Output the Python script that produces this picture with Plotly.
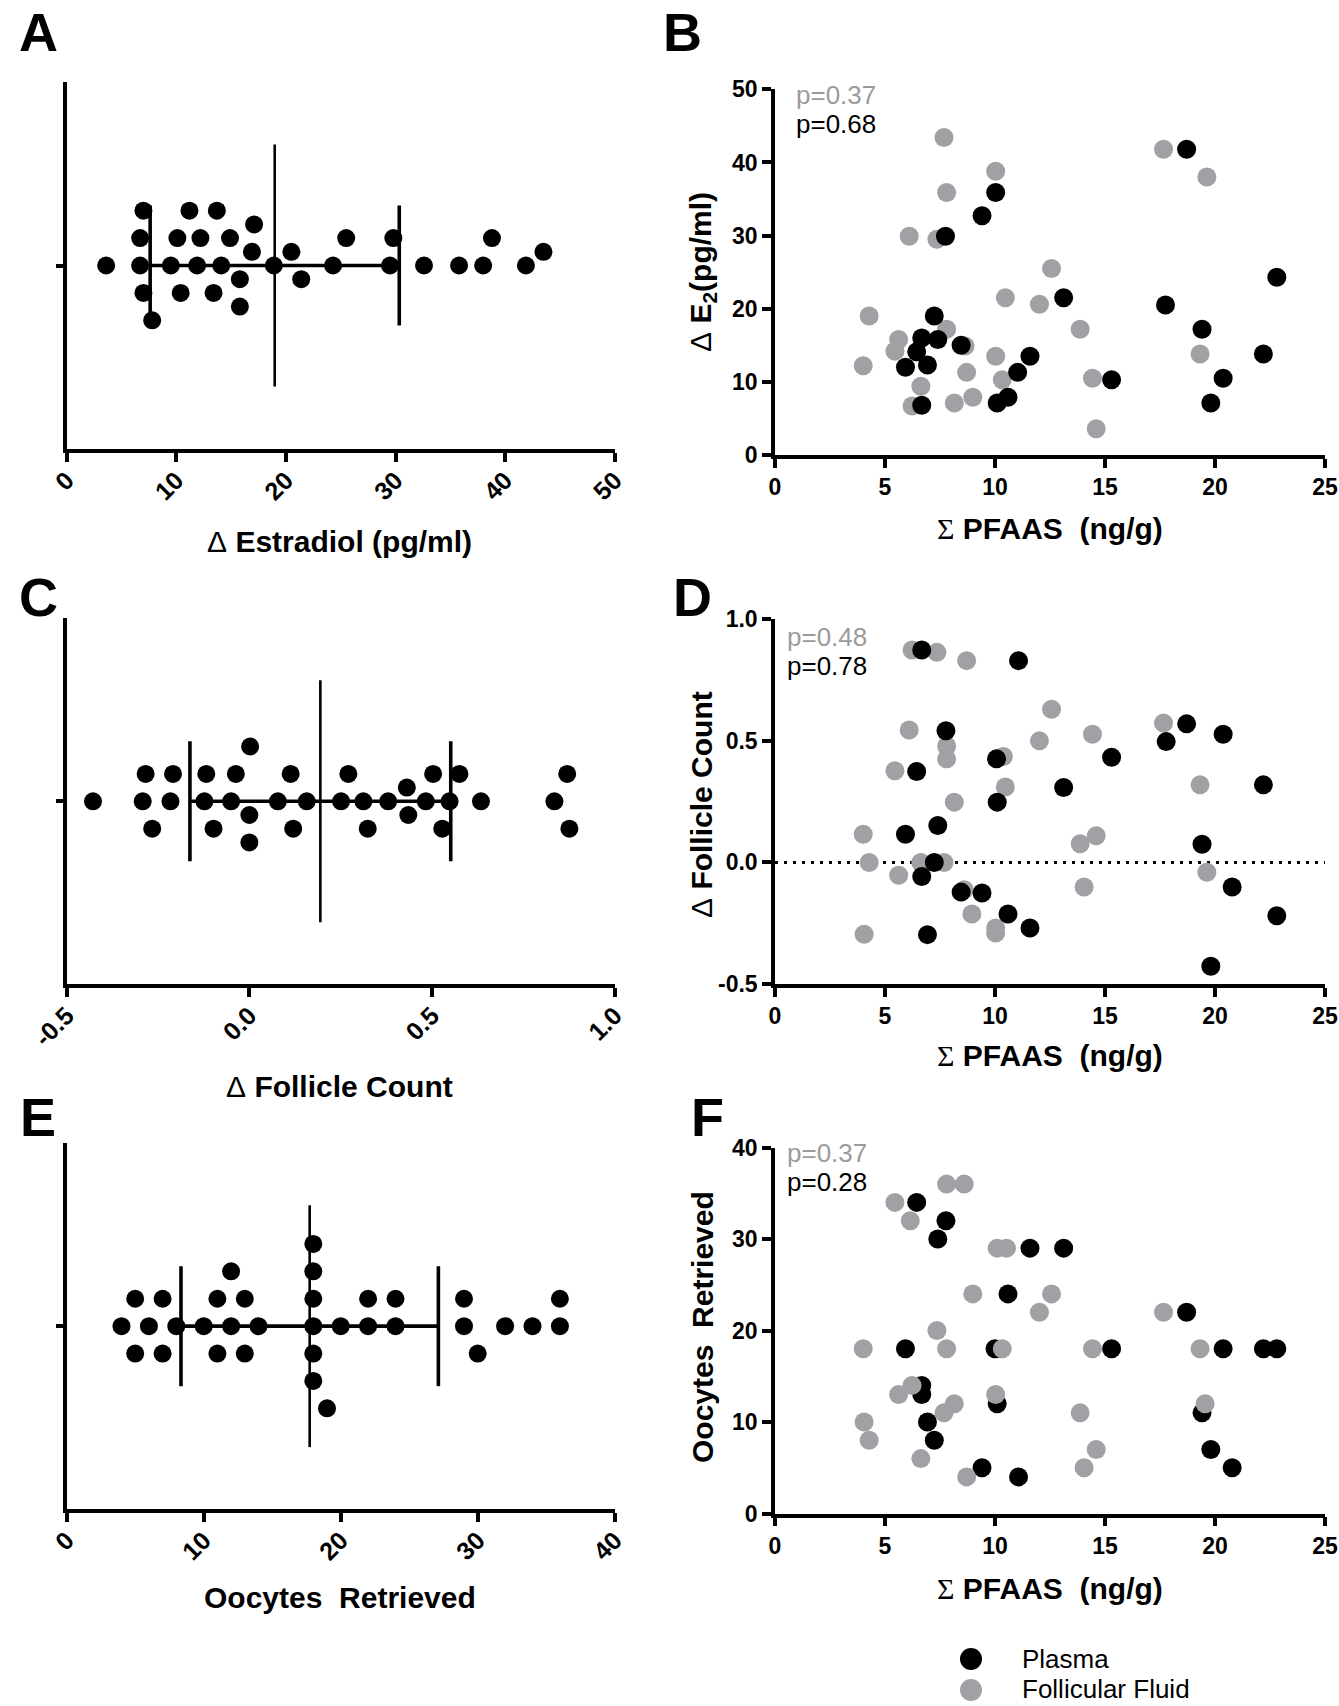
import math
import plotly.graph_objects as go

# ---------------- data ----------------
# Panel A: delta estradiol (pg/ml), all participants
estradiol_delta = [3.6, 6.7, 6.7, 7.0, 7.0, 7.8, 9.5, 10.1, 10.4, 11.2, 11.9, 12.2, 13.4, 13.7,
                   14.1, 14.9, 15.8, 15.8, 16.9, 17.1, 18.9, 20.5, 21.4, 24.3, 25.5, 29.5, 29.8,
                   32.6, 35.8, 38.0, 38.8, 41.9, 43.5]
# Panel C: delta follicle count
follicle_delta = [-0.428, -0.292, -0.284, -0.266, -0.216, -0.209, -0.123, -0.118, -0.098, -0.05,
                  -0.037, 0.0, 0.0, 0.002, 0.078, 0.113, 0.12, 0.157, 0.251, 0.271, 0.312, 0.324,
                  0.38, 0.431, 0.435, 0.483, 0.503, 0.528, 0.548, 0.575, 0.634, 0.835, 0.87, 0.876]
# Panel E: oocytes retrieved
oocytes = [4, 5, 5, 6, 7, 7, 8, 10, 11, 11, 12, 12, 13, 13, 14, 18, 18, 18, 18, 18, 18, 19, 20,
           22, 22, 24, 24, 29, 29, 30, 32, 34, 36, 36]

# Panel B: sum PFAAS vs delta E2
pfaas_plasma_B = [18.71, 10.03, 9.41, 7.75, 13.12, 22.81, 17.75, 7.24, 6.67, 7.4, 8.46, 6.44, 5.93,
                  6.93, 11.59, 11.03, 15.3, 19.41, 22.2, 20.37, 19.81, 10.1, 10.59, 6.67]
e2_plasma_B = [41.8, 35.9, 32.7, 29.9, 21.5, 24.3, 20.5, 19.0, 16.0, 15.8, 15.0, 14.1, 12.0,
               12.3, 13.5, 11.3, 10.3, 17.2, 13.8, 10.5, 7.1, 7.1, 7.9, 6.8]
pfaas_ff_B = [7.68, 10.03, 7.8, 6.1, 7.36, 12.57, 10.47, 12.02, 4.28, 7.8, 13.87, 5.62, 8.64, 5.45,
              10.03, 4.01, 8.71, 10.33, 14.43, 6.63, 6.23, 8.15, 8.99, 14.6, 17.66, 19.63, 19.32]
e2_ff_B = [43.4, 38.8, 35.9, 29.9, 29.5, 25.5, 21.5, 20.6, 19.0, 17.2, 17.2, 15.8, 14.9, 14.2,
           13.5, 12.2, 11.3, 10.3, 10.5, 9.4, 6.7, 7.1, 7.9, 3.6, 41.8, 38.0, 13.8]

# Panel D: sum PFAAS vs delta follicle count
pfaas_plasma_D = [6.67, 11.07, 7.77, 18.71, 20.37, 17.78, 10.07, 15.3, 6.44, 13.12, 22.2, 10.1,
                  7.4, 5.93, 19.41, 7.24, 6.67, 8.46, 9.41, 10.59, 22.81, 11.59, 6.93, 20.78, 19.81]
fc_plasma_D = [0.874, 0.83, 0.542, 0.570, 0.527, 0.497, 0.426, 0.433, 0.374, 0.308, 0.319, 0.248,
               0.152, 0.116, 0.075, 0.0, -0.058, -0.122, -0.126, -0.212, -0.219, -0.27, -0.297,
               -0.101, -0.427]
pfaas_ff_D = [6.23, 7.36, 8.71, 12.57, 6.1, 17.66, 14.43, 12.02, 7.8, 7.8, 10.38, 5.45, 10.47,
              19.32, 8.15, 4.01, 14.6, 13.87, 4.28, 6.63, 7.68, 5.62, 19.63, 14.05, 8.6, 8.95,
              10.03, 10.03, 4.05]
fc_ff_D = [0.874, 0.864, 0.83, 0.63, 0.545, 0.573, 0.527, 0.5, 0.479, 0.426, 0.436, 0.377, 0.31,
           0.319, 0.248, 0.116, 0.11, 0.077, 0.0, 0.0, 0.0, -0.053, -0.04, -0.101, -0.112, -0.212,
           -0.27, -0.29, -0.295]

# Panel F: sum PFAAS vs oocytes retrieved
pfaas_plasma_F = [6.44, 7.77, 7.4, 11.59, 13.12, 10.59, 18.71, 5.93, 10.0, 15.3, 20.37, 22.2,
                  22.81, 6.67, 6.67, 10.1, 19.41, 6.93, 7.24, 19.81, 9.41, 20.78, 11.07]
oo_plasma_F = [34, 32, 30, 29, 29, 24, 22, 18, 18, 18, 18, 18, 18, 14, 13, 12, 11, 10, 8, 7, 5, 5, 4]
pfaas_ff_F = [5.45, 6.15, 7.8, 8.6, 10.1, 10.52, 8.99, 12.57, 12.02, 17.66, 7.36, 4.01, 7.8, 10.33,
              14.43, 19.32, 6.23, 5.62, 10.03, 8.15, 19.55, 7.68, 13.87, 4.05, 4.28, 14.6, 6.63,
              14.05, 8.71]
oo_ff_F = [34, 32, 36, 36, 29, 29, 24, 24, 22, 22, 20, 18, 18, 18, 18, 18, 14, 13, 13, 12, 12, 11,
           11, 10, 8, 7, 6, 5, 4]

p_values_B = ["p=0.37", "p=0.68"]
p_values_D = ["p=0.48", "p=0.78"]
p_values_F = ["p=0.37", "p=0.28"]

ticks_A = [0, 10, 20, 30, 40, 50]
ticks_C = [-0.5, 0.0, 0.5, 1.0]
ticklabels_C = ["-0.5", "0.0", "0.5", "1.0"]
ticks_E = [0, 10, 20, 30, 40]
ticks_pfaas = [0, 5, 10, 15, 20, 25]
ticks_B = [0, 10, 20, 30, 40, 50]
ticks_D = [-0.5, 0.0, 0.5, 1.0]
ticklabels_D = ["-0.5", "0.0", "0.5", "1.0"]
ticks_F = [0, 10, 20, 30, 40]

series_names = ["Plasma", "Follicular Fluid"]

# ---------------- style / layout ----------------
W, H = 1339, 1706
BLACK = "#000000"
GREY = "#a0a0a5"
PGREY = "#9b9b9b"
FONT = "Arial, Liberation Sans, sans-serif"
DOT_SWARM = 18
DOT = 19
TICKF = 23
TITLEF = 30


def fx(px):
    return px / W


def fy(py):
    return 1 - py / H


# pixel boxes (left, right, top, bottom)
box = {
    "A": (66.7, 614.7, 82, 449),
    "B": (775, 1325, 89.3, 455),
    "C": (66.7, 614.7, 618.3, 984.3),
    "D": (775, 1325, 619.3, 984),
    "E": (66.7, 614.7, 1143.3, 1509),
    "F": (775, 1325, 1147.5, 1513.5),
}


def swarm_offsets(values, px_per_unit, lane=13.7, d=22.0):
    order = sorted(range(len(values)), key=lambda i: values[i])
    placed = []
    offs = [0.0] * len(values)
    cands = [0] + [s * j for j in range(1, 40) for s in (1, -1)]
    for i in order:
        x = values[i] * px_per_unit
        chosen = 0
        for k in cands:
            y = k * lane
            if all((x - px) ** 2 + (y - py) ** 2 >= d * d for px, py in placed):
                chosen = k
                break
        placed.append((x, chosen * lane))
        offs[i] = chosen * lane
    return offs


def mean_sd(v):
    m = sum(v) / len(v)
    s = math.sqrt(sum((a - m) ** 2 for a in v) / (len(v) - 1))
    return m, s


fig = go.Figure()

axis_base = dict(showline=True, linewidth=3.5, linecolor=BLACK, ticks="outside", ticklen=9,
                 tickwidth=3.5, tickcolor=BLACK, showgrid=False, zeroline=False, automargin=False,
                 tickfont=dict(family=FONT, size=TICKF, color=BLACK, weight="bold"))

layout_axes = {}
panels_dot = [("A", estradiol_delta, [0, 50], ticks_A, [str(t) for t in ticks_A], 1),
              ("C", follicle_delta, [-0.5, 1.0], ticks_C, ticklabels_C, 3),
              ("E", oocytes, [0, 40], ticks_E, [str(t) for t in ticks_E], 5)]

for key, vals, xr, tv, tt, n in panels_dot:
    l, r, t, b = box[key]
    half = (b - t) / 2
    ppu = (r - l) / (xr[1] - xr[0])
    offs = swarm_offsets([v - xr[0] for v in vals], ppu)
    xa = "x" if n == 1 else f"x{n}"
    ya = "y" if n == 1 else f"y{n}"
    fig.add_trace(go.Scatter(x=vals, y=offs, mode="markers", xaxis=xa, yaxis=ya,
                             marker=dict(color=BLACK, size=DOT_SWARM, line=dict(width=0)),
                             showlegend=False, cliponaxis=False))
    m, s = mean_sd(vals)
    fig.add_trace(go.Scatter(x=[m, m], y=[-121, 121], mode="lines", xaxis=xa, yaxis=ya,
                             line=dict(color=BLACK, width=2.6), showlegend=False))
    fig.add_trace(go.Scatter(x=[m - s, m + s, None, m - s, m - s, None, m + s, m + s],
                             y=[0, 0, None, -60, 60, None, -60, 60], mode="lines",
                             xaxis=xa, yaxis=ya, line=dict(color=BLACK, width=3.6),
                             showlegend=False))
    layout_axes[f"xaxis{'' if n == 1 else n}"] = dict(
        axis_base, domain=[fx(l), fx(r)], range=xr, tickvals=tv, ticktext=tt,
        tickangle=-45, anchor=ya, ticklabelstandoff=-6,
        tickfont=dict(family=FONT, size=25, color=BLACK, weight="bold"))
    layout_axes[f"yaxis{'' if n == 1 else n}"] = dict(
        axis_base, domain=[fy(b), fy(t)], range=[-half, half], tickvals=[0],
        showticklabels=False, ticklen=7, anchor=xa)

panels_sc = [("B", pfaas_plasma_B, e2_plasma_B, pfaas_ff_B, e2_ff_B, [0, 50], ticks_B,
              [str(t) for t in ticks_B], 2, True),
             ("D", pfaas_plasma_D, fc_plasma_D, pfaas_ff_D, fc_ff_D, [-0.5, 1.0], ticks_D,
              ticklabels_D, 4, True),
             ("F", pfaas_plasma_F, oo_plasma_F, pfaas_ff_F, oo_ff_F, [0, 40], ticks_F,
              [str(t) for t in ticks_F], 6, False)]

for key, px_, py_, fx_, fy_, yr, tv, tt, n, black_top in panels_sc:
    l, r, t, b = box[key]
    xa, ya = f"x{n}", f"y{n}"
    if key == "D":
        fig.add_trace(go.Scatter(x=[0, 25], y=[0, 0], mode="lines", xaxis=xa, yaxis=ya,
                                 line=dict(color=BLACK, width=3, dash="3px,6px"),
                                 showlegend=False))
    tr_p = go.Scatter(x=px_, y=py_, mode="markers", xaxis=xa, yaxis=ya, name=series_names[0],
                      marker=dict(color=BLACK, size=DOT, line=dict(width=0)), showlegend=False,
                      cliponaxis=False)
    tr_f = go.Scatter(x=fx_, y=fy_, mode="markers", xaxis=xa, yaxis=ya, name=series_names[1],
                      marker=dict(color=GREY, size=DOT, line=dict(width=0)), showlegend=False,
                      cliponaxis=False)
    if black_top:
        fig.add_trace(tr_f)
        fig.add_trace(tr_p)
    else:
        fig.add_trace(tr_p)
        fig.add_trace(tr_f)
    layout_axes[f"xaxis{n}"] = dict(axis_base, domain=[fx(l), fx(r)], range=[0, 25],
                                    tickvals=ticks_pfaas, ticktext=[str(v) for v in ticks_pfaas],
                                    anchor=ya)
    layout_axes[f"yaxis{n}"] = dict(axis_base, domain=[fy(b), fy(t)], range=yr, tickvals=tv,
                                    ticktext=tt, anchor=xa)

annotations = []


def ann(text, x, y, size, color=BLACK, weight="normal", xanchor="center", angle=0):
    annotations.append(dict(text=text, x=fx(x), y=fy(y), xref="paper", yref="paper",
                            showarrow=False, xanchor=xanchor, yanchor="middle", textangle=angle,
                            font=dict(family=FONT, size=size, color=color, weight=weight)))


for letter, x, y in [("A", 38, 32), ("B", 682, 32), ("C", 38, 597), ("D", 693, 597),
                     ("E", 38, 1117), ("F", 707, 1117)]:
    ann(letter, x, y, 54, weight="bold")

SIG = "<span style='font-family:Liberation Serif;font-weight:normal'>\u03a3</span>"
DEL = "<span style='font-weight:normal'>\u0394</span>"
pf_title = SIG + " PFAAS\u00a0 (ng/g)"
ann(DEL + " Estradiol (pg/ml)", 340, 541, TITLEF, weight="bold")
ann(DEL + " Follicle Count", 340, 1086, TITLEF, weight="bold")
ann("Oocytes\u00a0 Retrieved", 340, 1597, TITLEF, weight="bold")
ann(pf_title, 1050, 528, TITLEF, weight="bold")
ann(pf_title, 1050, 1055, TITLEF, weight="bold")
ann(pf_title, 1050, 1588, TITLEF, weight="bold")
ann(DEL + " E<sub>2</sub>(pg/ml)", 702, 272, TITLEF, weight="bold", angle=-90)
ann(DEL + " Follicle Count", 702, 805, TITLEF, weight="bold", angle=-90)
ann("Oocytes\u00a0 Retrieved", 702, 1327, TITLEF, weight="bold", angle=-90)

for pv, x, y0 in [(p_values_B, 794, 95), (p_values_D, 785, 637), (p_values_F, 785, 1153)]:
    ann(pv[0], x, y0, 26, color=PGREY, xanchor="left")
    ann(pv[1], x, y0 + 29, 26, color=BLACK, xanchor="left")

# legend (marker swatches as circle shapes, labels as text)
shapes = []
for (cy, col) in [(1659, BLACK), (1690, GREY)]:
    shapes.append(dict(type="circle", xref="paper", yref="paper", x0=fx(960), x1=fx(982),
                       y0=fy(cy + 11), y1=fy(cy - 11), fillcolor=col, line=dict(width=0)))
ann(series_names[0], 1020, 1659, 26, xanchor="left")
ann(series_names[1], 1020, 1689, 26, xanchor="left")

fig.update_layout(width=W, height=H, margin=dict(l=0, r=0, t=0, b=0, pad=0, autoexpand=False),
                  paper_bgcolor="white", plot_bgcolor="white", showlegend=False,
                  annotations=annotations, shapes=shapes, **layout_axes)

fig.write_html("out.html", config={"displayModeBar": False},
               post_script="document.body.style.margin='0px';")
